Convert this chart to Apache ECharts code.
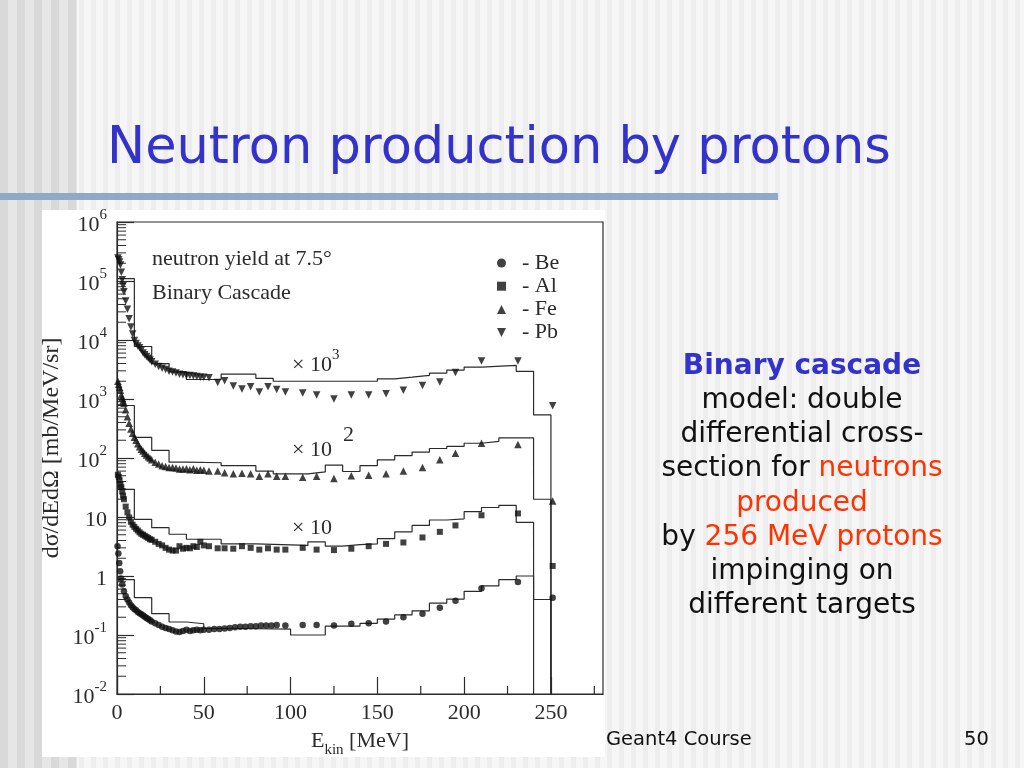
<!DOCTYPE html>
<html>
<head>
<meta charset="utf-8">
<script src="https://cdn.jsdelivr.net/npm/echarts@6/dist/echarts.min.js"></script>
<style>
html,body{margin:0;padding:0;width:1024px;height:768px;overflow:hidden;}
body{
  background-color:#f2f2f2;
  background-image:
    repeating-linear-gradient(90deg,#d9d9d9 0px,#d9d9d9 8px,#e6e6e6 8px,#e6e6e6 17px),
    repeating-linear-gradient(90deg,#f6f6f6 0px,#f6f6f6 7px,#ededed 7px,#ededed 12px);
  background-size:77px 100%,100% 100%;
  background-repeat:no-repeat,repeat;
}
#chart{position:absolute;left:0;top:0;width:1024px;height:768px;}
</style>
</head>
<body>
<div id="chart"></div>
<script>
// ---------------- data ----------------
const energyTicks = [0, 50, 100, 150, 200, 250];
const energyMinorTicks = [25, 75, 125, 175, 225, 275];
const yDecades = [0.01, 0.1, 1, 10, 100, 1000, 10000, 100000, 1000000];
const yMinorMultipliers = [2, 3, 4, 5, 6, 7, 8, 9];
const targets = ['Be', 'Al', 'Fe', 'Pb'];

// measured points [E_kin MeV, dsigma/dEdOmega (scaled)]
const bePoints = [[0.3,3.2],[0.8,2.4],[1.3,1.66],[1.8,1.2],[2.3,0.91],[3,0.72],[4,0.55],[5,0.46],[6,0.40],[7,0.355],[8,0.32],[9,0.295],[10,0.275],[11,0.263],[12,0.245],[13,0.234],[14,0.224],[15,0.214],[16,0.204],[17,0.195],[18,0.186],[19,0.178],[20,0.170],[22,0.158],[24,0.148],[26,0.138],[28,0.132],[30,0.126],[32,0.120],[34,0.115],[36,0.112],[38,0.117],[40,0.123],[42,0.117],[44,0.120],[46,0.123],[48,0.120],[50,0.123],[53,0.123],[56,0.126],[59,0.126],[62,0.129],[65,0.132],[68,0.135],[71,0.138],[74,0.138],[77,0.141],[80,0.141],[83,0.145],[86,0.145],[89,0.145],[92,0.148],[97,0.145],[107,0.148],[115,0.148],[125,0.145],[135,0.155],[145,0.158],[155,0.170],[165,0.20],[176,0.23],[186,0.29],[195,0.38],[210,0.62],[231,0.79],[251,0.43]];
const alPoints = [[0.5,52],[1,48],[1.5,42],[2,35],[2.5,32],[3,27],[3.5,23],[4,20],[5,15],[6,12],[7,9.8],[8,8.3],[9,7.4],[10,6.8],[11,6.3],[12,5.9],[13,5.5],[14,5.2],[15,5.0],[16,4.8],[17,4.6],[18,4.4],[19,4.2],[20,4.1],[22,3.8],[24,3.5],[26,3.3],[28,3.0],[30,2.8],[32,2.7],[34,2.7],[36,3.2],[38,2.9],[40,3.0],[42,2.95],[44,3.2],[46,3.1],[48,3.8],[50,3.3],[53,3.2],[58,2.95],[62,2.95],[67,2.9],[72,3.2],[77,3.0],[82,2.8],[87,2.95],[92,2.8],[97,2.8],[107,3.0],[115,2.8],[125,2.75],[135,2.9],[145,3.2],[155,3.5],[165,3.7],[176,4.5],[186,5.6],[195,7.2],[210,10.7],[231,11.5],[251,1.48]];
const fePoints = [[0.5,2000],[1,1780],[1.5,1580],[2,1410],[2.5,1170],[3,1050],[3.5,930],[4,850],[5,660],[6,500],[7,390],[8,310],[9,263],[10,224],[11,200],[12,174],[13,155],[14,141],[15,132],[16,120],[17,112],[18,105],[19,100],[20,93],[22,85],[24,79],[26,74],[28,72],[30,69],[32,69],[34,68],[36,65],[38,65],[40,66],[42,63],[44,66],[46,62],[48,63],[50,62],[53,60],[58,60],[62,56],[67,54],[72,55],[77,54],[82,49],[87,54],[92,49],[97,49],[107,47],[115,49],[125,45],[135,50],[145,51],[155,54],[165,60],[176,69],[186,93],[195,120],[210,178],[231,170],[251,18.6]];
const pbPoints = [[0.5,245000],[1,229000],[1.5,209000],[2,186000],[2.5,141000],[3,105000],[3.5,83000],[4,66000],[5,45700],[6,33100],[7,22900],[8,16600],[9,12600],[10,9800],[11,8700],[12,7900],[13,7400],[14,6800],[15,6000],[16,5600],[17,5250],[18,4900],[19,4570],[20,4270],[22,3890],[24,3550],[26,3310],[28,3160],[30,2950],[32,2880],[34,2750],[36,2630],[38,2570],[40,2510],[42,2510],[44,2450],[46,2400],[48,2340],[50,2340],[53,2290],[58,1910],[62,2040],[67,1660],[72,1480],[77,1620],[82,1320],[87,1620],[92,1450],[97,1320],[107,1260],[115,1170],[125,1000],[135,1170],[145,1170],[155,1230],[165,1410],[176,1700],[186,1950],[195,2800],[210,4400],[231,4400],[251,770]];

// Binary Cascade histograms: [binLow, binHigh, value]
const beHist = [[0,10,0.87],[10,20,0.43],[20,30,0.23],[30,40,0.166],[40,50,0.155],[50,70,0.129],[70,100,0.126],[100,120,0.100],[120,140,0.141],[140,150,0.158],[150,160,0.186],[160,170,0.219],[170,180,0.257],[180,190,0.347],[190,200,0.407],[200,210,0.55],[210,220,0.68],[220,230,0.87],[230,240,1.0],[240,250,0.40]];
const alHist = [[0,10,29.5],[10,20,9.1],[20,30,6.6],[30,40,5.1],[40,60,4.2],[60,80,3.5],[80,110,3.3],[110,120,3.8],[120,130,3.2],[130,140,3.4],[140,150,3.5],[150,160,4.3],[160,170,5.6],[170,180,7.2],[180,190,8.9],[190,200,9.3],[200,210,12.3],[210,220,14.5],[220,230,15.8],[230,240,8.1]];
const feHist = [[0,10,776],[10,20,224],[20,30,135],[30,40,85],[40,60,83],[60,80,74],[80,90,60],[90,110,54],[110,120,58],[120,130,76],[130,140,59],[140,150,74],[150,160,93],[160,170,110],[170,180,126],[180,190,145],[190,200,158],[200,210,178],[210,220,191],[220,240,219],[240,250,20]];
const pbHist = [[0,10,110000],[10,20,7760],[20,30,3980],[30,40,2880],[40,60,2140],[60,80,2630],[80,90,2240],[90,100,2000],[100,140,2000],[140,150,2000],[150,160,2190],[160,170,2340],[170,180,2510],[180,190,2750],[190,200,3090],[200,210,3470],[210,230,3720],[230,240,2950],[240,250,537]];

const descriptionLines = [
  '{b|Binary cascade}',
  'model: double',
  'differential cross-',
  'section for {r|neutrons}',
  '{r|produced}',
  'by {r|256 MeV protons}',
  'impinging on',
  'different targets'
];

// ---------------- chart ----------------
const SERIF = '"Liberation Serif","DejaVu Serif",serif';
const SANS = '"DejaVu Sans",Verdana,sans-serif';
const INK = '#2b2b2b';
const Y_MIN = yDecades[0];
const Y_MAX = yDecades[yDecades.length - 1];
const INVERTED_TRIANGLE = 'path://M0,0L10,0L5,10Z';

function histLine(bins) {
  const pts = [];
  bins.forEach(b => { pts.push([b[0], b[2]]); pts.push([b[1], b[2]]); });
  pts.push([bins[bins.length - 1][1], Y_MIN]);
  return pts;
}
const yMinorValues = [];
yDecades.slice(0, -1).forEach(d => yMinorMultipliers.forEach(m => yMinorValues.push([0, d * m])));

const chart = echarts.init(document.getElementById('chart'));

const histStyle = { color: INK, width: 1.2 };
function histSeries(name, bins) {
  return { name: name + ' (Binary Cascade)', type: 'line', data: histLine(bins), symbol: 'none',
    lineStyle: histStyle, itemStyle: { color: INK }, z: 3, silent: true };
}
function pointSeries(name, data, symbol, size) {
  return { name: name, type: 'scatter', data: data, symbol: symbol, symbolSize: size,
    itemStyle: { color: '#111' }, z: 4, silent: true };
}

const descGraphics = descriptionLines.map((t, i) => ({
  type: 'text', x: 802, y: 366.5 + i * 34.2,
  style: { text: t, fontFamily: SANS, fontSize: 28, fill: '#111', align: 'center', verticalAlign: 'middle',
    rich: { b: { fontFamily: SANS, fontSize: 28, fontWeight: 'bold', fill: '#3333cc' },
            r: { fontFamily: SANS, fontSize: 28, fill: '#ff3300' } } }
}));

const supRich = {
  m: { fontFamily: SERIF, fontSize: 22, lineHeight: 28, verticalAlign: 'bottom', fill: INK, color: INK },
  sup: { fontFamily: SERIF, fontSize: 15, lineHeight: 15, verticalAlign: 'top', fill: INK, color: INK }
};

const option = {
  animation: false,
  backgroundColor: 'transparent',
  grid: { left: 117, top: 222, width: 486, height: 472, show: true, borderColor: INK, borderWidth: 1.2, backgroundColor: 'transparent' },
  xAxis: {
    type: 'value', min: energyTicks[0], max: 280, interval: energyTicks[1] - energyTicks[0],
    name: '{m|E}{sub|kin}{m| [MeV]}', nameLocation: 'middle', nameGap: 36,
    nameTextStyle: { rich: {
      m: { fontFamily: SERIF, fontSize: 22, lineHeight: 28, verticalAlign: 'top', color: INK },
      sub: { fontFamily: SERIF, fontSize: 15, lineHeight: 15, verticalAlign: 'bottom', color: INK } } },
    axisLine: { lineStyle: { color: INK, width: 1.2 } },
    axisTick: { inside: true, length: 17, lineStyle: { color: INK, width: 1.2 } },
    axisLabel: { margin: 8, fontFamily: SERIF, fontSize: 22, color: INK, showMaxLabel: false },
    splitLine: { show: false }
  },
  yAxis: {
    type: 'log', logBase: 10, min: Y_MIN, max: Y_MAX,
    axisLine: { lineStyle: { color: INK, width: 1.2 } },
    axisTick: { inside: true, length: 17, lineStyle: { color: INK, width: 1.2 } },
    axisLabel: {
      margin: 10,
      formatter: function (v) {
        const e = Math.round(Math.log10(v));
        if (e === 0) return '{m|1}';
        if (e === 1) return '{m|10}';
        return '{m|10}{sup|' + e + '}';
      },
      rich: supRich
    },
    splitLine: { show: false }
  },
  legend: {
    data: targets, orient: 'vertical', left: 492, top: 247, itemWidth: 9, itemHeight: 9, itemGap: 1.2,
    symbolKeepAspect: true,
    selectedMode: false, formatter: n => '  - ' + n,
    textStyle: { fontFamily: SERIF, fontSize: 22, lineHeight: 22, color: INK }
  },
  graphic: [
    { type: 'rect', z: -100, shape: { x: 42, y: 210, width: 563, height: 547 }, style: { fill: '#ffffff' } },
    { type: 'rect', shape: { x: 0, y: 193, width: 778, height: 7 }, style: { fill: '#8faac4' } },
    { type: 'text', x: 107, y: 150, style: { text: 'Neutron production by protons', fontFamily: SANS, fontSize: 51, fill: '#3333cc', verticalAlign: 'middle' } },
    { type: 'text', x: 606, y: 740, style: { text: 'Geant4 Course', fontFamily: SANS, fontSize: 19.5, fill: '#111', verticalAlign: 'middle' } },
    { type: 'text', x: 964, y: 740, style: { text: '50', fontFamily: SANS, fontSize: 19.5, fill: '#111', verticalAlign: 'middle' } },
    { type: 'text', x: 152, y: 259, style: { text: 'neutron yield at 7.5°', fontFamily: SERIF, fontSize: 22, fill: INK, verticalAlign: 'middle' } },
    { type: 'text', x: 152, y: 293, style: { text: 'Binary Cascade', fontFamily: SERIF, fontSize: 22, fill: INK, verticalAlign: 'middle' } },
    { type: 'text', x: 292, y: 362, style: { text: '{m|× 10}{sup|3}', fontFamily: SERIF, fontSize: 22, fill: INK, verticalAlign: 'middle', rich: supRich } },
    { type: 'text', x: 292, y: 450, style: { text: '× 10', fontFamily: SERIF, fontSize: 22, fill: INK, verticalAlign: 'middle' } },
    { type: 'text', x: 343, y: 435, style: { text: '2', fontFamily: SERIF, fontSize: 22, fill: INK, verticalAlign: 'middle' } },
    { type: 'text', x: 292, y: 528, style: { text: '× 10', fontFamily: SERIF, fontSize: 22, fill: INK, verticalAlign: 'middle' } },
    { type: 'text', x: 52, y: 448, rotation: Math.PI / 2, style: { text: 'dσ/dEdΩ [mb/MeV/sr]', fontFamily: SERIF, fontSize: 24, fill: INK, align: 'center', verticalAlign: 'middle' } }
  ].concat(descGraphics),
  series: [
    histSeries('Be', beHist), histSeries('Al', alHist), histSeries('Fe', feHist), histSeries('Pb', pbHist),
    pointSeries('Be', bePoints, 'circle', 6.5),
    pointSeries('Al', alPoints, 'rect', 6),
    pointSeries('Fe', fePoints, 'triangle', 7.5),
    pointSeries('Pb', pbPoints, INVERTED_TRIANGLE, 7.5),
    { type: 'custom', name: 'y minor ticks', silent: true, z: 3, data: yMinorValues,
      renderItem: function (params, api) {
        const p = api.coord([api.value(0), api.value(1)]);
        return { type: 'line', shape: { x1: p[0], y1: p[1], x2: p[0] + 9, y2: p[1] }, style: { stroke: INK, lineWidth: 1 } };
      } },
    { type: 'custom', name: 'x minor ticks', silent: true, z: 3, data: energyMinorTicks.map(e => [e, Y_MIN]),
      renderItem: function (params, api) {
        const p = api.coord([api.value(0), api.value(1)]);
        return { type: 'line', shape: { x1: p[0], y1: p[1], x2: p[0], y2: p[1] - 8 }, style: { stroke: INK, lineWidth: 1.2 } };
      } }
  ]
};
chart.setOption(option);
</script>
</body>
</html>
